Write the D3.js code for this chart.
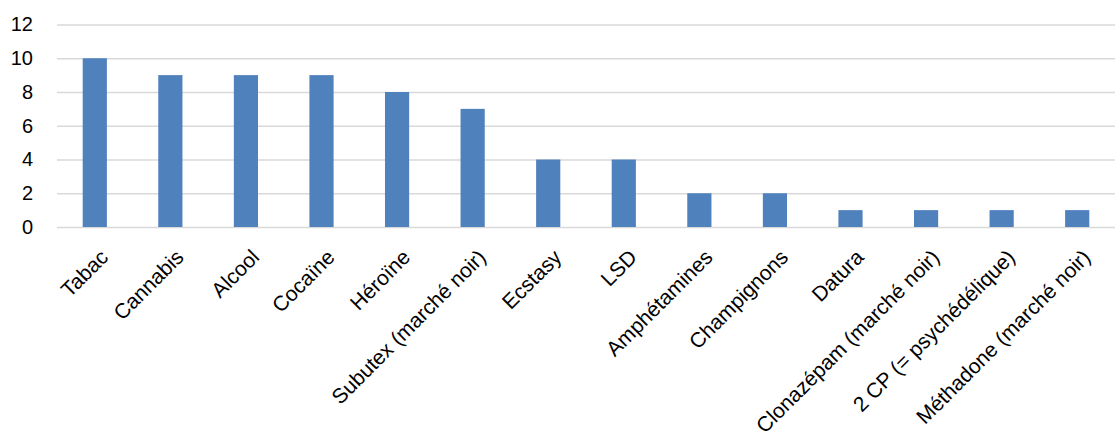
<!DOCTYPE html>
<html><head><meta charset="utf-8">
<script src="https://cdn.jsdelivr.net/npm/d3@7"></script>
<style>body{margin:0;background:#fff}svg{display:block}</style>
</head><body><svg id="c" width="1116" height="439"></svg>
<script>
const categories = ["Tabac","Cannabis","Alcool","Cocaïne","Héroïne","Subutex (marché noir)","Ecstasy","LSD","Amphétamines","Champignons","Datura","Clonazépam (marché noir)","2 CP (= psychédélique)","Méthadone (marché noir)"];
const values = [10,9,9,9,8,7,4,4,2,2,1,1,1,1];
const yTicks = [0,2,4,6,8,10,12];

(function(){
const svg = d3.select("#c");
const mLeft = 57, mRight = 1115, mTop = 24.5, mBottom = 227;
const x = d3.scaleBand().domain(categories).range([mLeft, mRight]).paddingInner(0.68).paddingOuter(0.34);
const y = d3.scaleLinear().domain([0, 12]).range([mBottom, mTop]);
const font = "'Liberation Sans', Arial, sans-serif";

const gy = svg.append("g").attr("transform", `translate(${mLeft},0)`)
  .call(d3.axisLeft(y).tickValues(yTicks).tickSize(-(mRight-mLeft)).tickPadding(24));
gy.select(".domain").remove();
gy.selectAll(".tick line").attr("stroke", "#d9d9d9").attr("stroke-width", 1.5);
gy.selectAll(".tick text").attr("font-family", font).attr("font-size", 20).attr("fill", "#000");

svg.append("g").selectAll("rect").data(values).join("rect")
  .attr("x", (d,i) => x(categories[i]))
  .attr("width", x.bandwidth())
  .attr("y", d => y(d))
  .attr("height", d => y(0) - y(d))
  .attr("fill", "#4f81bd");

const gx = svg.append("g").attr("transform", `translate(0,${mBottom})`)
  .call(d3.axisBottom(x).tickSize(0));
gx.select(".domain").remove();
gx.selectAll(".tick text")
  .attr("font-family", font).attr("font-size", 21).attr("fill", "#000")
  .attr("text-anchor", "end")
  .attr("transform", "translate(4,21) rotate(-45)")
  .attr("dy", "0.71em").attr("y", 0).attr("x", 0);
})();
</script></body></html>
